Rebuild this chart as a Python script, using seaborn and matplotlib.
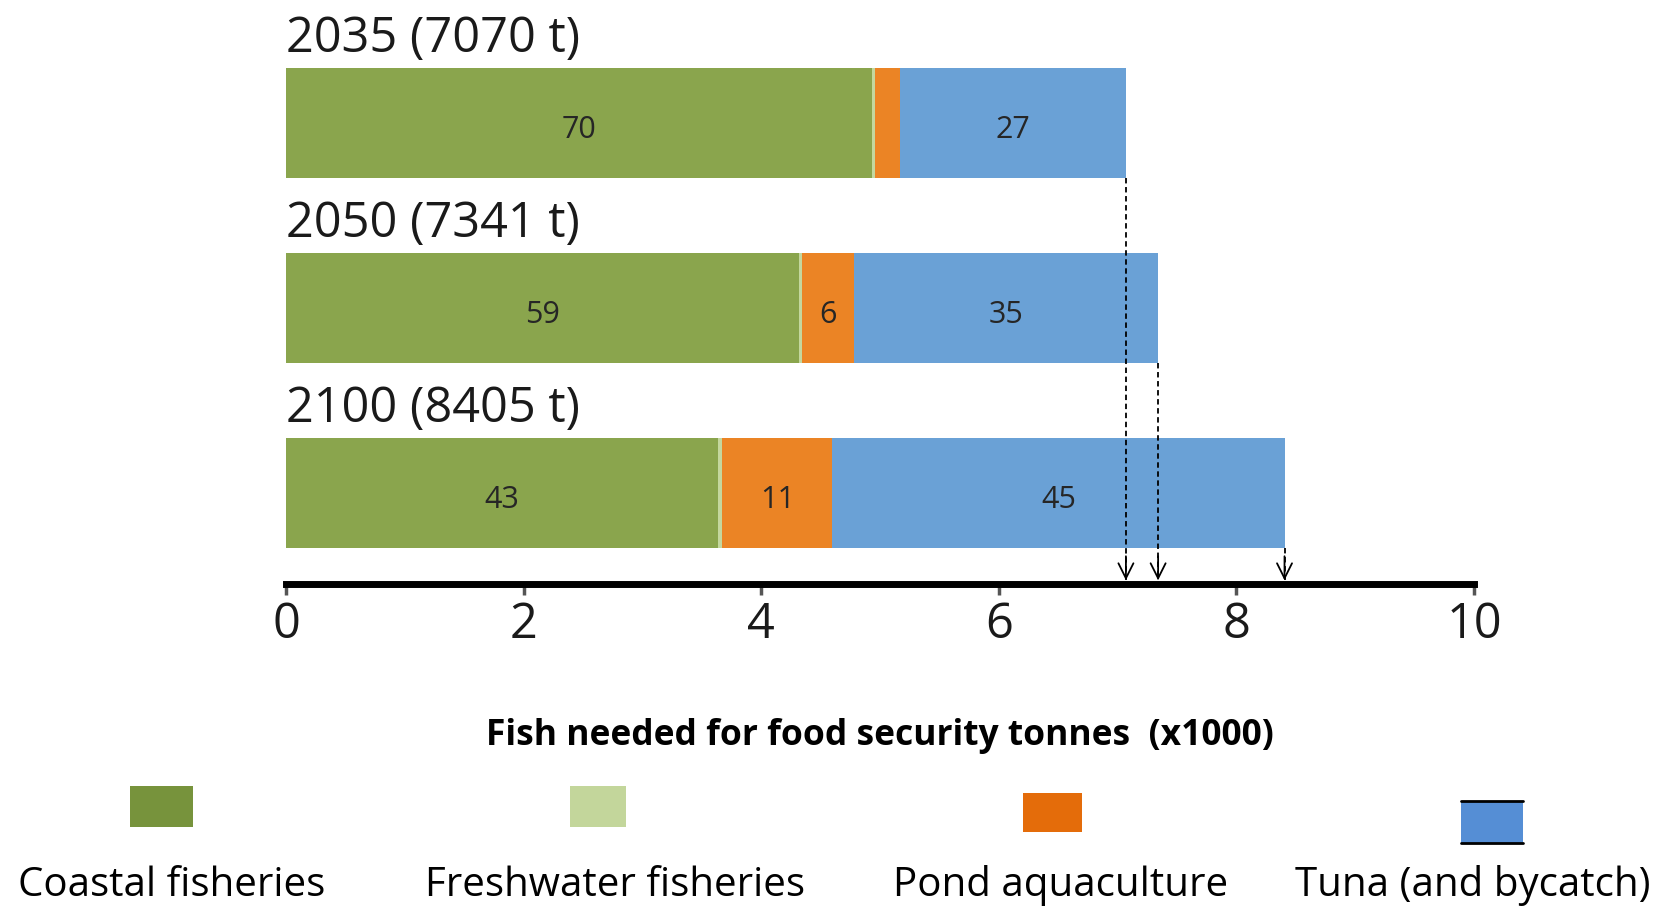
import numpy as np
import pandas as pd
import matplotlib
matplotlib.use("Agg")
import matplotlib.pyplot as plt
from matplotlib.patches import Rectangle
from matplotlib.lines import Line2D
import seaborn as sns

# ---- data -------------------------------------------------------------
years = ["2035", "2050", "2100"]
totals_t = [7070, 7341, 8405]            # tonnes needed (total)
coastal_pct = [70, 59, 43]
freshwater_pct = [0.3, 0.3, 0.4]
pond_pct = [3, 6, 11]
tuna_pct = [27, 35, 45]

categories = ["Coastal fisheries", "Freshwater fisheries",
              "Pond aquaculture", "Tuna (and bycatch)"]
x_ticks = [0, 2, 4, 6, 8, 10]
x_label = "Fish needed for food security tonnes  (x1000)"

# ---- styles -----------------------------------------------------------
bar_colors = ["#8AA54D", "#C4D79E", "#EB8425", "#6AA1D6"]
legend_colors = ["#77933C", "#C3D69B", "#E46C0A", "#558ED5"]

sns.set_theme(style="white")
plt.rcParams["font.family"] = ["Open Sans", "DejaVu Sans"]

W, H = 1671, 909
fig = plt.figure(figsize=(W / 100, H / 100), dpi=100)
fig.patch.set_facecolor("white")

def fx(px):
    return px / W

def fy(py):
    return 1 - py / H

ax_left, ax_right, ax_top, ax_bottom = 286, 1474, 0, 584
ax = fig.add_axes([fx(ax_left), fy(ax_bottom), fx(ax_right - ax_left),
                   (ax_bottom - ax_top) / H])

# ---- stacked segments (thousand tonnes) --------------------------------
pcts = np.array([coastal_pct, freshwater_pct, pond_pct, tuna_pct], dtype=float)
totals_k = np.array(totals_t) / 1000.0
shares = pcts / pcts.sum(axis=0) * totals_k          # width of each segment
ends = np.cumsum(shares, axis=0)
starts = ends - shares

df = pd.DataFrame({"year": years})
for k in range(len(categories)):
    df[f"end_{k}"] = ends[k]

bar_w = 0.595
for k in reversed(range(len(categories))):
    sns.barplot(data=df, x=f"end_{k}", y="year", orient="h",
                color=bar_colors[k], saturation=1, width=bar_w,
                errorbar=None, linewidth=0, ax=ax)

# value labels inside segments
pct_table = [coastal_pct, freshwater_pct, pond_pct, tuna_pct]
for k in (0, 2, 3):
    for i in range(len(years)):
        v = pct_table[k][i]
        if v < 5:
            continue
        ax.text((starts[k, i] + ends[k, i]) / 2, i + 0.04, f"{v:g}",
                ha="center", va="center", fontsize=22, color="#262626")

# year titles above bars
for i, (yr, tot) in enumerate(zip(years, totals_t)):
    ax.text(0, i - 0.455, f"{yr} ({tot} t)", ha="left", va="center",
            fontsize=35, color="#1a1a1a")

# axes formatting
ylo, yhi = 2.492, -0.665
ax.set_ylim(ylo, yhi)
ax.set_xlim(0, 10)
ax.set_xticks(x_ticks)
ax.set_xticklabels([str(t) for t in x_ticks])
ax.set_xlabel("")
ax.set_ylabel("")
ax.set_yticks([])
for s in ("left", "top", "right"):
    ax.spines[s].set_visible(False)
ax.spines["bottom"].set_linewidth(5)
ax.spines["bottom"].set_color("black")
ax.tick_params(axis="x", bottom=True, length=8, width=2.5, color="#555555",
               labelsize=35, pad=4, labelcolor="#1a1a1a")

# dashed arrows from bar ends down to the axis
for i, tot in enumerate(totals_k):
    y0 = i + bar_w / 2
    ax.plot([tot, tot], [y0, ylo - 0.02], ls=(0, (3, 2)), color="black",
            lw=1.3, clip_on=False)
    ax.annotate("", xy=(tot, ylo - 0.02), xytext=(tot, ylo - 0.15),
                arrowprops=dict(arrowstyle="->,head_length=0.9,head_width=0.45",
                                lw=1.3, color="black", shrinkA=0, shrinkB=0),
                annotation_clip=False)

# x label
fig.text(fx(880), fy(736), x_label, ha="center", va="center",
         fontsize=25.5, fontweight="bold", color="black")

# ---- legend ------------------------------------------------------------
patch_boxes = [(130, 786, 193, 827), (570, 786, 626, 827),
               (1023, 793, 1082, 832), (1461, 801, 1523, 843)]
label_cx = [172, 615, 1061, 1473]
for k, name in enumerate(categories):
    x0, y0, x1, y1 = patch_boxes[k]
    fig.patches.append(Rectangle((fx(x0), fy(y1)), fx(x1 - x0), (y1 - y0) / H,
                                 transform=fig.transFigure,
                                 facecolor=legend_colors[k], edgecolor="none"))
    if k == 3:
        for yy in (y0, y1):
            fig.lines.append(Line2D([fx(x0), fx(x1)], [fy(yy), fy(yy)],
                                    transform=fig.transFigure,
                                    color="black", lw=2))
    fig.text(fx(label_cx[k]), fy(896), name, ha="center", va="baseline",
             fontsize=29, color="black")

fig.savefig("out.png", dpi=100, facecolor="white")
